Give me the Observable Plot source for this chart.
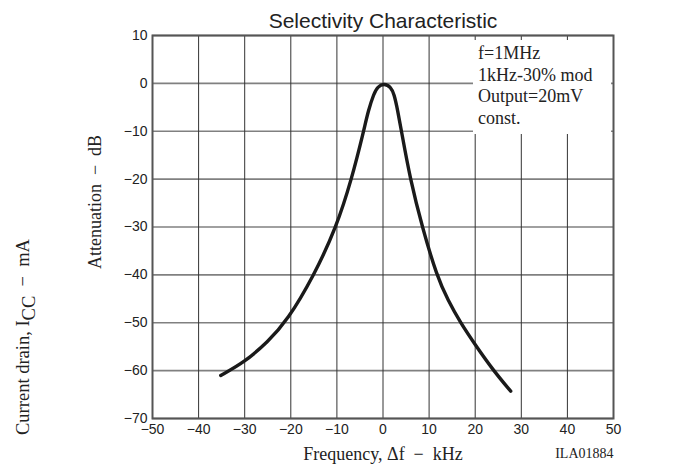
<!DOCTYPE html>
<html>
<head>
<meta charset="utf-8">
<script src="https://cdn.jsdelivr.net/npm/d3@7"></script>
<script src="https://cdn.jsdelivr.net/npm/@observablehq/plot@0.6"></script>
<style>
  html, body { margin: 0; padding: 0; background: #fff; }
  #wrap { position: relative; width: 682px; height: 470px; }
  #note {
    position: absolute; left: 473px; top: 40px; width: 138px; height: 94px;
    background: #fff; font-family: "Liberation Serif", serif; font-size: 18px;
    line-height: 21.5px; color: #222; padding: 3px 0 0 5px; box-sizing: border-box;
  }
</style>
</head>
<body>
<div id="wrap"></div>
<script>
// ---- data ----
const freq  = [-35.2, -30, -25, -20.8, -15, -10.1, -6.8, -4.2, -3.2, -2.0, -1.2, 0.3, 1.7, 2.4, 3.2, 4.0, 5.9, 8.5, 11.7, 14.1, 16.8, 20, 23.8, 27.7];
const atten = [-61, -58.2, -54, -49.6, -40.2, -30, -20, -10, -5.7, -2.2, -0.7, 0, -0.8, -2.2, -5.7, -10, -20, -30, -40.3, -45.3, -50, -54.6, -59.8, -64.3];
const xTicks = [-50, -40, -30, -20, -10, 0, 10, 20, 30, 40, 50];
const yTicks = [-70, -60, -50, -40, -30, -20, -10, 0, 10];
const titleText = "Selectivity Characteristic";
const xLabel = "Frequency, \u0394f  \u2212  kHz";
const yLabel = "Attenuation  \u2212  dB";
const y2Label = "Current drain, ICC  \u2212  mA";
const figId = "ILA01884";
const noteLines = ["f=1MHz", "1kHz-30% mod", "Output=20mV", "const."];

const points = freq.map((f, i) => ({f, a: atten[i]}));

const chart = Plot.plot({
  width: 682,
  height: 470,
  marginTop: 35,
  marginBottom: 52,
  marginLeft: 152,
  marginRight: 69,
  x: {domain: [-50, 50], label: null},
  y: {domain: [-70, 10], label: null},
  style: {fontFamily: "'Liberation Sans', Arial, sans-serif", fontSize: "14px", color: "#222", background: "#fff", overflow: "visible", whiteSpace: "pre"},
  marks: [
    Plot.gridY(yTicks, {stroke: "#808080", strokeOpacity: 1, strokeWidth: 1.6}),
    Plot.gridX(xTicks, {stroke: "#333", strokeOpacity: 1, strokeWidth: 1}),
    Plot.axisX(xTicks, {tickSize: 0, tickPadding: 6, label: null, fontSize: 14}),
    Plot.axisY(yTicks, {tickSize: 0, tickPadding: 5, label: null, fontSize: 14}),
    Plot.line(points, {x: "f", y: "a", curve: "basis", stroke: "#1a1a1a", strokeWidth: 3.4, strokeLinecap: "round"}),
    Plot.frame({stroke: "#555", strokeWidth: 2}),
    Plot.text([titleText], {frameAnchor: "top", lineAnchor: "middle", dy: -14, fontSize: 21, fill: "#222"}),
    Plot.text([xLabel], {frameAnchor: "bottom", dy: 41, fontSize: 18, fontFamily: "'Liberation Serif', serif", fill: "#222"}),
    Plot.text([figId], {frameAnchor: "bottom-right", textAnchor: "end", dy: 39, fontSize: 14, fontFamily: "'Liberation Serif', serif", fill: "#222"}),
    Plot.text([yLabel], {frameAnchor: "left", textAnchor: "middle", rotate: -90, dx: -57, dy: -25, fontSize: 18, fontFamily: "'Liberation Serif', serif", fill: "#222"}),
    Plot.text([y2Label], {frameAnchor: "left", textAnchor: "middle", rotate: -90, dx: -129, dy: 110, fontSize: 18.5, fontFamily: "'Liberation Serif', serif", fill: "#222"})
  ]
});

// subscript "CC" in the current-drain label
d3.select(chart).selectAll("text").each(function() {
  const t = d3.select(this);
  if (t.text() === y2Label) {
    t.text(null);
    t.append("tspan").text("Current drain, I");
    t.append("tspan").attr("dy", "0.3em").text("CC");
    t.append("tspan").attr("dy", "-0.3em").text("  \u2212  mA");
  }
});

const wrap = document.getElementById("wrap");
wrap.appendChild(chart);
const note = document.createElement("div");
note.id = "note";
note.innerHTML = noteLines.map(s => `<div>${s}</div>`).join("");
wrap.appendChild(note);
</script>
</body>
</html>
